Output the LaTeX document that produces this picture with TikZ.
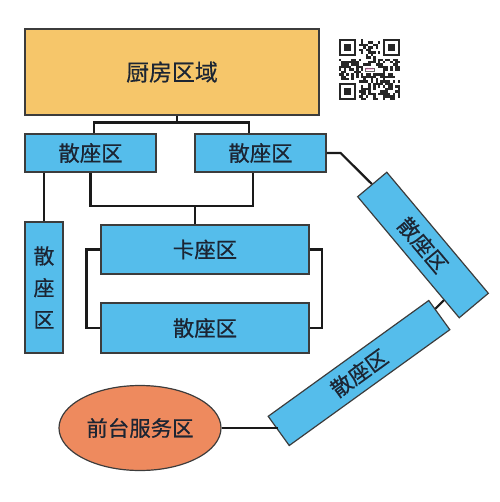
\documentclass[tikz,border=0pt]{standalone}
\usepackage{fontspec}
\setmainfont{Noto Sans CJK SC}
\newfontfamily\zonefont{Noto Sans CJK SC}[FakeBold=0.5]
\usepackage{tikz}
\usetikzlibrary{calc,shapes,positioning}

\definecolor{kitchenfill}{HTML}{F6C66A}
\definecolor{seatfill}{HTML}{55BDEB}
\definecolor{deskfill}{HTML}{EE8A5E}
\definecolor{inkline}{HTML}{1A1A1A}
\definecolor{inktext}{HTML}{1C2533}

\begin{document}
\begin{tikzpicture}[x=1bp, y=-1bp, line width=2.2bp, color=inkline,
	zone/.style={draw=inkline!85, line width=1.2bp, inner sep=0pt, text=inktext, font=\zonefont\fontsize{21.5}{21.5}\selectfont},
	seat/.style={zone, fill=seatfill, minimum width=131bp, minimum height=38bp},
	qrdot/.style={fill=black!85}]
	\useasboundingbox (0,0) rectangle (500,502);

	\node (kitchen) [zone, fill=kitchenfill, minimum width=294bp, minimum height=86bp, font=\zonefont\fontsize{23}{23}\selectfont] at (172,72) {厨房区域};
	\node (seatL) [seat] at (90.5,153) {散座区};
	\node (seatR) [seat] at (260.5,153) {散座区};
	\node (seatV) [seat, minimum width=38bp, minimum height=131bp, align=center, font=\zonefont\fontsize{21}{32}\selectfont] at (44,287.5) {散\\座\\区};
	\node (card) [seat, minimum width=208bp, minimum height=49bp] at (205,249.5) {卡座区};
	\node (seatB) [seat, minimum width=208bp, minimum height=50bp] at (205,328) {散座区};
	\node (slopeA) [seat, minimum width=158bp, minimum height=38bp, rotate=-50] at (423,245) {散座区};
	\node (slopeB) [seat, minimum width=198bp, minimum height=36bp, rotate=35.8] at (359,373) {散座区};
	\node (desk) [zone, ellipse, fill=deskfill, minimum width=162bp, minimum height=85bp] at (140,428) {前台服务区};

	% links
	\draw ([xshift=5bp]kitchen.south) -- ++(0,7) coordinate (kt);
	\draw ([xshift=3.5bp]seatL.north) |- (kt) -| ([xshift=-11.5bp]seatR.north);
	\draw (seatL.south -| seatV.north) -- (seatV.north);
	\draw (seatL.south) -- ++(0,33) coordinate (mid) -| ([xshift=-7.5bp]seatR.south);
	\draw ([xshift=-10bp]card.north) -- ([xshift=-10bp]card.north |- mid);
	\draw (card.west) -- ++(-14,0) |- (seatB.west);
	\draw (card.east) -- ++(12,0) |- (seatB.east);
	\draw (seatR.east) -- ++(14,0) -- (slopeA.west);
	\draw ($(slopeB.north east)!0.3!(slopeB.south east)$) -- ($(slopeA.south east)!0.15!(slopeA.south west)$);
	\draw (desk.east) -- (desk.east -| slopeB.west);

	% qr code
	\begin{scope}[shift={(339,39)}, x=2.44bp, y=-2.44bp]
		\pgfmathsetseed{11}
		\foreach \i in {0,...,24} {
			\foreach \j in {0,...,24} {
				\pgfmathtruncatemacro\qrfree{!((\i<8 && \j<8) || (\i>16 && \j<8) || (\i<8 && \j>16) || (\i>9 && \i<15 && \j>10 && \j<14))}
				\pgfmathtruncatemacro\qrbit{rnd<0.5}
				\ifnum\qrfree=1 \ifnum\qrbit=1
					\fill[qrdot] (\i,\j) rectangle ++(1,1);
				\fi\fi
			}
		}
		\foreach \qx/\qy in {0/0, 18/0, 0/18} {
			\fill[qrdot] (\qx,\qy) rectangle ++(7,7);
			\fill[white] (\qx+1,\qy+1) rectangle ++(5,5);
			\fill[qrdot] (\qx+2,\qy+2) rectangle ++(3,3);
		}
		\node (qrlogo) [draw=black!60, line width=0.3bp, inner sep=0.6bp, font=\fontsize{3}{3}\selectfont, text=magenta!70] at (12.5,12.5) {SDDO};
	\end{scope}
\end{tikzpicture}
\end{document}
